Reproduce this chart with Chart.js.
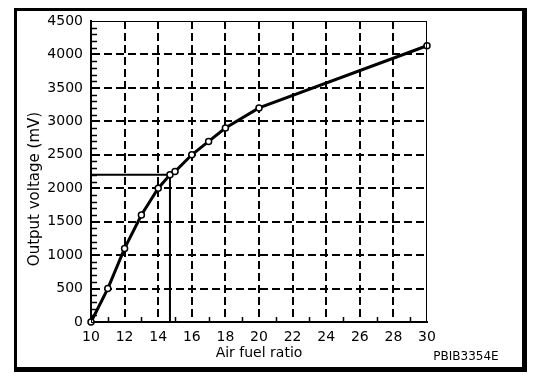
<!DOCTYPE html>
<html>
<head>
<meta charset="utf-8">
<script src="https://cdn.jsdelivr.net/npm/chart.js@4.4.1/dist/chart.umd.min.js"></script>
<style>
  html, body { margin: 0; padding: 0; background: #fff; }
  canvas { display: block; }
</style>
</head>
<body>
<canvas id="sensor-chart" width="560" height="386"></canvas>
<script>
// sensor output curve
const airFuelRatio = [10, 11, 12, 13, 14, 14.7, 15, 16, 17, 18, 20, 30];
const outputVoltage = [0, 500, 1100, 1600, 2000, 2200, 2250, 2500, 2700, 2900, 3200, 4130];

// the stoichiometric guide line (14.7 -> 2200 mV)
const guideRatio = [10, 14.7, 14.7];
const guideVoltage = [2200, 2200, 0];

const xTicks = [10, 12, 14, 16, 18, 20, 22, 24, 26, 28, 30];
const yTicks = [0, 500, 1000, 1500, 2000, 2500, 3000, 3500, 4000, 4500];

Chart.defaults.font.family = "'DejaVu Sans', sans-serif";
Chart.defaults.color = "#000";

const toPoints = (xs, ys) => xs.map((x, i) => ({ x: x, y: ys[i] }));

// frame, minor ticks and extra labels
const framePlugin = {
  id: "frame",
  afterDraw(chart) {
    const { ctx, chartArea: a, scales } = chart;
    const x = scales.x;
    const y = scales.y;
    ctx.save();
    ctx.strokeStyle = "#000";
    ctx.lineWidth = 1;
    ctx.strokeRect(a.left + 0.5, a.top + 0.5, a.right - a.left - 1, a.bottom - a.top);

    ctx.lineWidth = 1.5;
    ctx.beginPath();
    for (let v = y.min + 100; v < y.max; v += 100) {
      if (v % 500 === 0) continue;
      const py = Math.round(y.getPixelForValue(v)) + 0.5;
      ctx.moveTo(a.left, py);
      ctx.lineTo(a.left + 6, py);
    }
    for (let v = x.min + 1; v < x.max; v += 2) {
      const px = Math.round(x.getPixelForValue(v)) + 0.5;
      ctx.moveTo(px, a.bottom);
      ctx.lineTo(px, a.bottom - 5);
    }
    ctx.stroke();

    // outer box
    ctx.fillStyle = "#000";
    ctx.fillRect(14, 8, 513, 3);
    ctx.fillRect(14, 8, 3, 364);
    ctx.fillRect(522, 8, 5, 364);
    ctx.fillRect(14, 367, 513, 5);

    // y axis title
    ctx.font = "15px 'DejaVu Sans'";
    ctx.textAlign = "center";
    ctx.textBaseline = "middle";
    ctx.translate(35, 189);
    ctx.rotate(-Math.PI / 2);
    ctx.fillText("Output voltage (mV)", 0, 0);
    ctx.setTransform(1, 0, 0, 1, 0, 0);

    ctx.font = "12px 'DejaVu Sans'";
    ctx.fillText("PBIB3354E", 466, 357);
    ctx.restore();
  },
};

const sensorChart = new Chart(document.getElementById("sensor-chart"), {
  type: "scatter",
  data: {
    datasets: [
      {
        data: toPoints(airFuelRatio, outputVoltage),
        showLine: true,
        clip: false,
        borderColor: "#000",
        borderWidth: 3,
        tension: 0,
        pointRadius: 3,
        pointBackgroundColor: "#fff",
        pointBorderColor: "#000",
        pointBorderWidth: 1.5,
        order: 1,
      },
      {
        data: toPoints(guideRatio, guideVoltage),
        showLine: true,
        borderColor: "#000",
        borderWidth: 2,
        pointRadius: 0,
        order: 2,
      },
    ],
  },
  options: {
    responsive: false,
    animation: false,
    devicePixelRatio: 1,
    layout: { padding: { left: 0, top: 21, right: 133, bottom: 0 } },
    plugins: { legend: { display: false }, tooltip: { enabled: false } },
    scales: {
      x: {
        type: "linear",
        min: 10,
        max: 30,
        afterBuildTicks: (scale) => {
          scale.ticks = xTicks.map((v) => ({ value: v }));
        },
        afterFit: (scale) => {
          scale.height = 64;
        },
        ticks: { font: { size: 14 }, padding: 7, maxRotation: 0, autoSkip: false, callback: (v) => String(v) },
        grid: {
          drawTicks: false,
          lineWidth: 2,
          color: (c) => (c.tick && (c.tick.value === 10 || c.tick.value === 30) ? "rgba(0,0,0,0)" : "#000"),
        },
        border: { display: true, color: "#000", width: 2, dash: [8, 4] },
        title: { display: true, text: "Air fuel ratio", font: { size: 14 }, padding: { top: 0, bottom: 24 } },
      },
      y: {
        type: "linear",
        min: 0,
        max: 4500,
        afterBuildTicks: (scale) => {
          scale.ticks = yTicks.map((v) => ({ value: v }));
        },
        afterFit: (scale) => {
          scale.width = 91;
        },
        ticks: { font: { size: 14 }, padding: 8, autoSkip: false, callback: (v) => String(v) },
        grid: {
          drawTicks: false,
          lineWidth: 2,
          color: (c) => (c.tick && (c.tick.value === 0 || c.tick.value === 4500) ? "rgba(0,0,0,0)" : "#000"),
        },
        border: { display: true, color: "#000", width: 2, dash: [8, 4] },
      },
    },
  },
  plugins: [framePlugin],
});
</script>
</body>
</html>
